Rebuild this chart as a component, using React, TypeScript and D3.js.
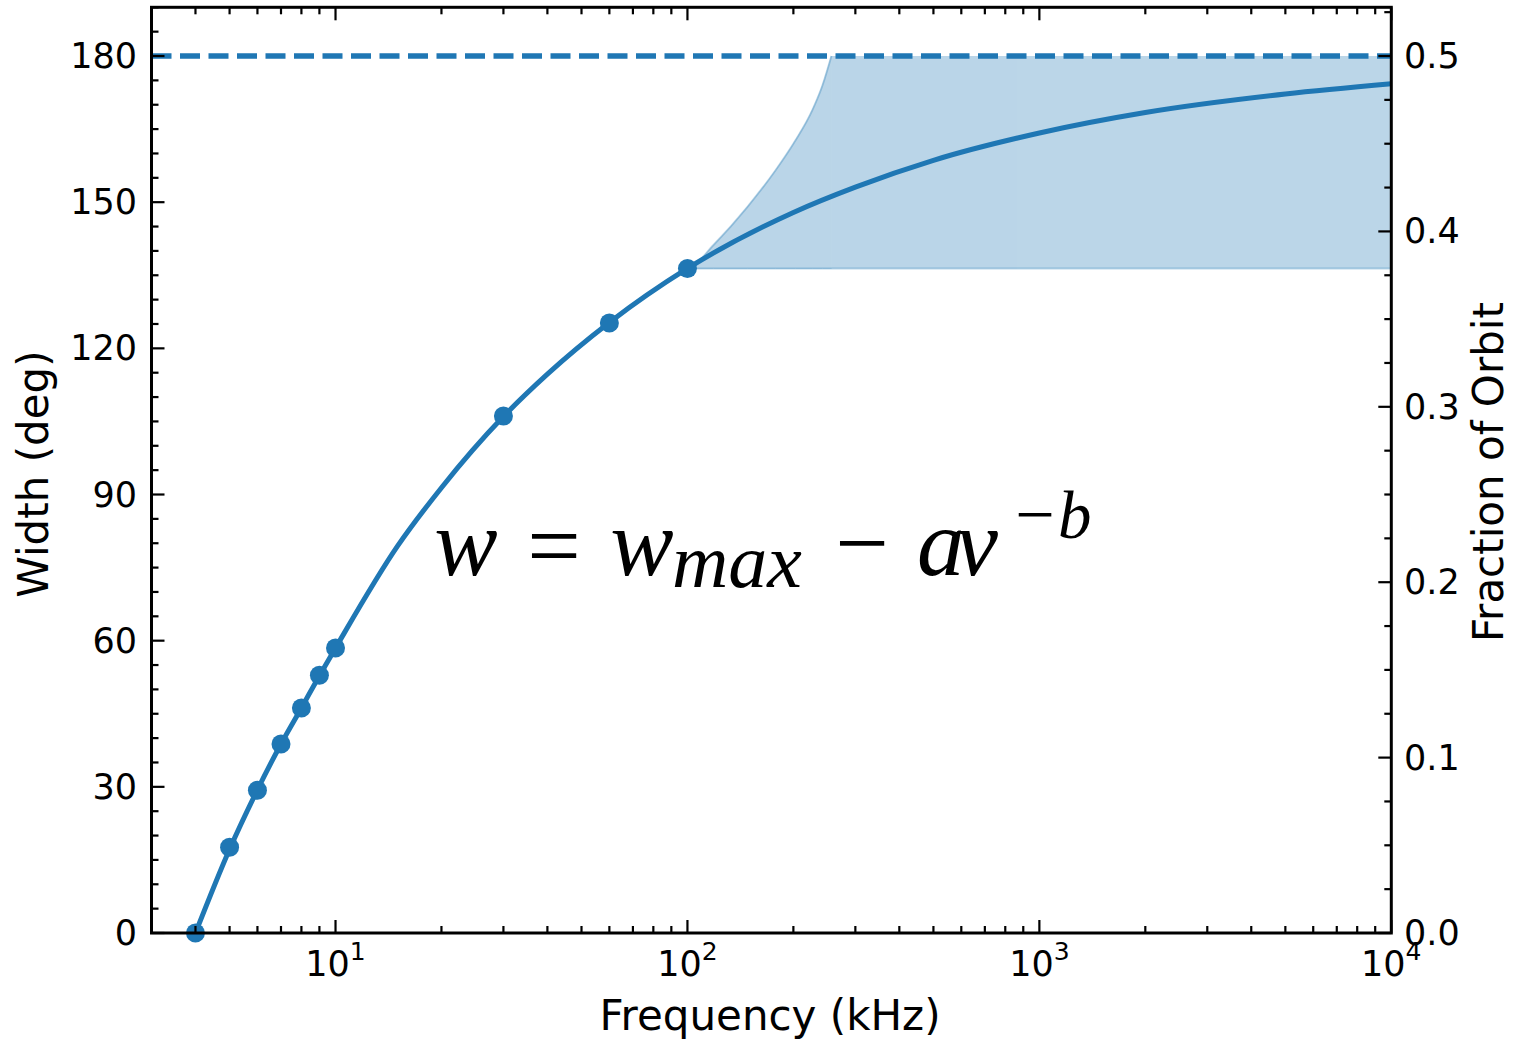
import * as d3 from "d3";

// measured points (kHz, deg)
const obsFreq = [4, 5, 6, 7, 8, 9, 10, 30, 60, 100];
const obsWidth = [0, 17.6, 29.3, 38.8, 46.2, 52.9, 58.5, 106.1, 125.2, 136.4];

// fitted curve
const fitFreq = [4, 5, 6, 7, 8, 9, 10, 15, 20, 30, 40, 60, 100, 200, 300, 500, 1000, 2000, 5000, 10000];
const fitWidth = [0, 17.2, 29.4, 38.8, 46.2, 52.8, 58.5, 79.4, 91.4, 106.0, 114.7, 125.3, 136.4, 147.9, 153.1, 158.6, 164.2, 168.4, 172.2, 174.3];

// shaded band: rising part, then flat at w_max
const riseFreq = [100, 102, 118.6, 147.9, 177.8, 202.8, 226.4, 242, 256.5];
const riseUpper = [136.4, 136.6, 141.2, 149.0, 156.5, 162.7, 168.9, 174.0, 180];
const flatFreq = [256.5, 10000];
const flatUpper = [180, 180];
const bandFloor = 136.4;

const wMax = 180;
const yTicks = [0, 30, 60, 90, 120, 150, 180];
const fracTicks = [0.0, 0.1, 0.2, 0.3, 0.4, 0.5];
const xTickExps = [1, 2, 3, 4];

const W = 1516;
const H = 1040;
const left = 151.5;
const right = 1391.3;
const top = 7.3;
const bottom = 933;
const blue = "#1f77b4";
const font = "'DejaVu Sans', sans-serif";
const mathFont = "'Liberation Serif', 'DejaVu Serif', serif";

export default function App() {
  const x = d3.scaleLog().domain([3, 1e4]).range([left, right]);
  const y = d3.scaleLinear().domain([0, 190]).range([bottom, top]);
  const yFrac = d3.scaleLinear().domain([0, 190 / 360]).range([bottom, top]);

  const fitLine = d3
    .line<number>()
    .x((d) => x(fitFreq[d]))
    .y((d) => y(fitWidth[d]))
    .curve(d3.curveMonotoneX);

  const riseArea = d3
    .area<number>()
    .x((d) => x(riseFreq[d]))
    .y0(() => y(bandFloor))
    .y1((d) => y(riseUpper[d]))
    .curve(d3.curveMonotoneX);

  const riseEdge = d3
    .line<number>()
    .x((d) => x(riseFreq[d]))
    .y((d) => y(riseUpper[d]))
    .curve(d3.curveMonotoneX);

  const flatArea = d3
    .area<number>()
    .x((d) => x(flatFreq[d]))
    .y0(() => y(bandFloor))
    .y1((d) => y(flatUpper[d]));

  const xMinor: number[] = [];
  for (let e = 0; e <= 3; e++) {
    for (let m = 2; m <= 9; m++) {
      const v = m * Math.pow(10, e);
      if (v >= 3 && v < 1e4) xMinor.push(v);
    }
  }
  const yMinor = d3.range(0, 191, 5).filter((v) => v % 30 !== 0);
  const fracMinor = d3
    .range(0, 0.53, 0.025)
    .filter((v) => Math.abs(v * 10 - Math.round(v * 10)) > 1e-6);

  const major = 13;
  const minor = 7;

  return (
    <svg
      width={W}
      height={H}
      style={{ position: "absolute", left: 0, top: 0, background: "#fff" }}
      fontFamily={font}
    >
      {/* band */}
      <g opacity={0.3}>
        <path d={riseArea(d3.range(riseFreq.length)) || ""} fill={blue} stroke={blue} strokeWidth={1} />
        <path d={flatArea(d3.range(flatFreq.length)) || ""} fill={blue} />
      </g>
      <path
        d={riseEdge(d3.range(riseFreq.length)) || ""}
        fill="none"
        stroke={blue}
        strokeOpacity={0.3}
        strokeWidth={2}
      />
      <line
        x1={x(riseFreq[0])}
        x2={right}
        y1={y(bandFloor)}
        y2={y(bandFloor)}
        stroke={blue}
        strokeOpacity={0.3}
        strokeWidth={2}
      />
      {/* w max */}
      <line
        x1={left}
        x2={right}
        y1={y(wMax)}
        y2={y(wMax)}
        stroke={blue}
        strokeWidth={5.5}
        strokeDasharray="20 8.5"
      />
      <path d={fitLine(d3.range(fitFreq.length)) || ""} fill="none" stroke={blue} strokeWidth={5} />
      {obsFreq.map((f, i) => (
        <circle key={i} cx={x(f)} cy={y(obsWidth[i])} r={9.5} fill={blue} />
      ))}

      {/* ticks */}
      <g stroke="#000" strokeWidth={2.2}>
        {xTickExps.map((e) => (
          <g key={"xM" + e}>
            <line x1={x(10 ** e)} x2={x(10 ** e)} y1={bottom} y2={bottom - major} />
            <line x1={x(10 ** e)} x2={x(10 ** e)} y1={top} y2={top + major} />
          </g>
        ))}
        {xMinor.map((v) => (
          <g key={"xm" + v}>
            <line x1={x(v)} x2={x(v)} y1={bottom} y2={bottom - minor} />
            <line x1={x(v)} x2={x(v)} y1={top} y2={top + minor} />
          </g>
        ))}
        {yTicks.map((v) => (
          <line key={"yM" + v} x1={left} x2={left + major} y1={y(v)} y2={y(v)} />
        ))}
        {yMinor.map((v) => (
          <line key={"ym" + v} x1={left} x2={left + minor} y1={y(v)} y2={y(v)} />
        ))}
        {fracTicks.map((v) => (
          <line key={"fM" + v} x1={right} x2={right - major} y1={yFrac(v)} y2={yFrac(v)} />
        ))}
        {fracMinor.map((v) => (
          <line key={"fm" + v} x1={right} x2={right - minor} y1={yFrac(v)} y2={yFrac(v)} />
        ))}
      </g>

      {/* frame */}
      <rect
        x={left}
        y={top}
        width={right - left}
        height={bottom - top}
        fill="none"
        stroke="#000"
        strokeWidth={3}
      />

      {/* tick labels */}
      <g fontSize={35} fill="#000">
        {yTicks.map((v) => (
          <text key={"yl" + v} x={137} y={y(v)} textAnchor="end" dominantBaseline="central">
            {v}
          </text>
        ))}
        {fracTicks.map((v) => (
          <text key={"fl" + v} x={1404} y={yFrac(v)} textAnchor="start" dominantBaseline="central">
            {v.toFixed(1)}
          </text>
        ))}
        {xTickExps.map((e) => (
          <text key={"xl" + e} x={x(10 ** e)} y={976} textAnchor="middle">
            10
            <tspan fontSize={25} dy={-16}>
              {e}
            </tspan>
          </text>
        ))}
      </g>

      {/* axis labels */}
      <g fontSize={42} fill="#000">
        <text x={770} y={1030} textAnchor="middle">
          Frequency (kHz)
        </text>
        <text transform="translate(48,474) rotate(-90)" textAnchor="middle">
          Width (deg)
        </text>
        <text transform="translate(1503,472) rotate(-90)" textAnchor="middle">
          Fraction of Orbit
        </text>
      </g>

      {/* formula */}
      <g fontFamily={mathFont} fill="#000">
        <text x={466} y={575} fontSize={95} fontStyle="italic" textAnchor="middle">w</text>
        <text x={554} y={578} fontSize={95} textAnchor="middle">=</text>
        <text x={642} y={575} fontSize={95} fontStyle="italic" textAnchor="middle">w</text>
        <text x={672} y={587} fontSize={76} fontStyle="italic" textLength={130} lengthAdjust="spacingAndGlyphs">max</text>
        <text x={862} y={575} fontSize={95} textAnchor="middle">−</text>
        <text x={917} y={575} fontSize={95} fontStyle="italic" textLength={81} lengthAdjust="spacing">aν</text>
        <text x={1035} y={538} fontSize={70} textAnchor="middle">−</text>
        <text x={1058} y={538} fontSize={67} fontStyle="italic">b</text>
      </g>
    </svg>
  );
}
